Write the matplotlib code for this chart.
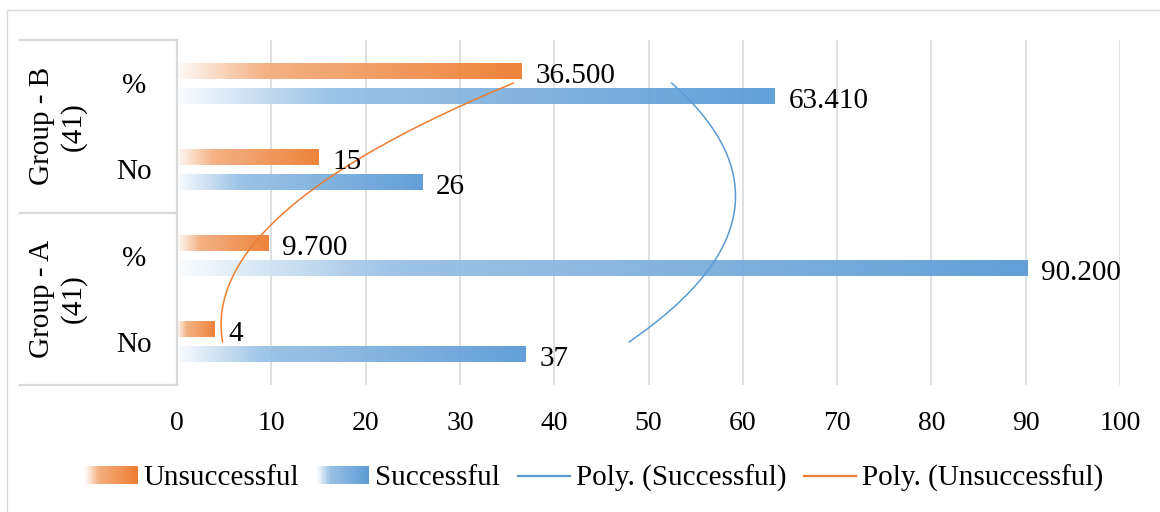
import numpy as np
import matplotlib
matplotlib.use("Agg")
import matplotlib.pyplot as plt
from matplotlib.colors import LinearSegmentedColormap, to_rgb
from matplotlib.legend_handler import HandlerBase
from matplotlib.patches import Rectangle
from matplotlib.lines import Line2D

plt.rcParams['font.family'] = ['Liberation Serif', 'DejaVu Serif']

# ---------- DATA ----------
categories = ['No', '%', 'No', '%']          # bottom -> top
groups = ['Group - A\n(41)', 'Group - B\n(41)']
successful = [37, 90.2, 26, 63.41]
unsuccessful = [4, 9.7, 15, 36.5]
xticks = np.arange(0, 101, 10)

ORANGE = '#ed7d31'
BLUE = '#5b9bd5'
GRID = '#d9d9d9'


def grad_cmap(color):
    c = np.array(to_rgb(color))
    w = np.ones(3)
    return LinearSegmentedColormap.from_list(
        'g', [(0.0, w * 0.97 + c * 0.03), (0.25, w * 0.38 + c * 0.62), (1.0, c)])


cmap_u = grad_cmap(ORANGE)
cmap_s = grad_cmap(BLUE)


def fmt(v, cat):
    return f'{v:.3f}' if cat == '%' else f'{v:g}'


class GradientHandler(HandlerBase):
    def __init__(self, cmap, n=40):
        super().__init__()
        self.cmap = cmap
        self.n = n

    def create_artists(self, legend, orig_handle, xdescent, ydescent,
                       width, height, fontsize, trans):
        x0, y0 = -xdescent, -ydescent
        step = width / self.n
        arts = []
        for i in range(self.n):
            arts.append(Rectangle((x0 + i * step, y0), step * 1.05, height,
                                  facecolor=self.cmap((i + 0.5) / self.n),
                                  edgecolor='none', lw=0, transform=trans))
        return arts


# ---------- PLOT ----------
W, H = 1160, 512
fig = plt.figure(figsize=(W / 100, H / 100), dpi=100)
ax = fig.add_axes([177 / W, 1 - 385 / H, 943 / W, 345 / H])

pos = np.arange(len(categories))
off, bh = 0.145, 0.185

bars_u = ax.barh(pos + off, unsuccessful, height=bh, color='none', lw=0)
bars_s = ax.barh(pos - off, successful, height=bh, color='none', lw=0)

grad = np.linspace(0, 1, 256)[None, :]
for bars, cmap in [(bars_u, cmap_u), (bars_s, cmap_s)]:
    for b in bars:
        x0, y0, w, h = b.get_x(), b.get_y(), b.get_width(), b.get_height()
        ax.imshow(grad, cmap=cmap, extent=(x0, x0 + w, y0, y0 + h),
                  aspect='auto', alpha=0.95, zorder=2, interpolation='bilinear')

# data labels
for bars, vals in [(bars_u, unsuccessful), (bars_s, successful)]:
    for b, v, cat in zip(bars, vals, categories):
        ax.annotate(fmt(v, cat), (b.get_width(), b.get_y() + b.get_height() / 2),
                    xytext=(10, -1.5), textcoords='offset points',
                    ha='left', va='center_baseline', fontsize=21, zorder=5)

# 2nd order polynomial trendlines (category index vs value)
t = np.linspace(pos[0], pos[-1], 200)
ps = np.polyfit(pos, successful, 2)
pu = np.polyfit(pos, unsuccessful, 2)
ax.plot(np.polyval(ps, t), t, color=BLUE, lw=1.1, zorder=3)
ax.plot(np.polyval(pu, t), t, color=ORANGE, lw=1.1, zorder=3)

ax.set_xlim(0, 100)
ax.set_ylim(-0.5, 3.5)
ax.set_xticks(xticks)
ax.set_yticks([])
ax.tick_params(axis='x', length=0, pad=19, labelsize=20)
ax.set_axisbelow(True)
ax.grid(axis='x', color=GRID, lw=1.2)
for s in ['top', 'right', 'bottom']:
    ax.spines[s].set_visible(False)
ax.spines['left'].set_color(GRID)
ax.spines['left'].set_linewidth(1.6)

# multi-level category axis
ytr = ax.get_yaxis_transform()
box_left = (20 - 177) / 943
for yb in [-0.5, 1.5, 3.5]:
    ax.plot([box_left, 0], [yb, yb], color=GRID, lw=1.6, transform=ytr, clip_on=False)
for p, cat in zip(pos, categories):
    ax.text((134 - 177) / 943, p, cat, transform=ytr, ha='center',
            va='center_baseline', fontsize=21)
for gi, g in enumerate(groups):
    ax.text((58 - 177) / 943, 2 * gi + 0.5, g, transform=ytr, rotation=90,
            ha='center', va='center', ma='center', fontsize=21, linespacing=1.2)

# chart border
fig.add_artist(Rectangle((7 / W, -0.1), 1.2, 1 - 10 / H + 0.1, transform=fig.transFigure,
                         fill=False, edgecolor=GRID, lw=1.0))

# legend
hu = Rectangle((0, 0), 1, 1)
hs = Rectangle((0, 0), 1, 1)
lb = Line2D([], [], color=BLUE, lw=1.6)
lo = Line2D([], [], color=ORANGE, lw=1.6)
fig.legend([hu, hs, lb, lo],
           ['Unsuccessful', 'Successful', 'Poly. (Successful)', 'Poly. (Unsuccessful)'],
           handler_map={hu: GradientHandler(cmap_u), hs: GradientHandler(cmap_s)},
           loc='center', bbox_to_anchor=(0.5125, 1 - 478 / H), ncol=4, frameon=False,
           fontsize=21, handlelength=1.8, handleheight=0.55, handletextpad=0.2,
           columnspacing=0.6, borderaxespad=0, borderpad=0)

fig.savefig('out.png', dpi=100)
